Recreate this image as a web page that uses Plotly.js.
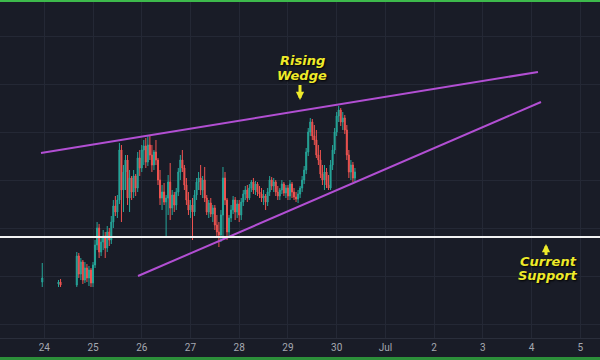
<!DOCTYPE html>
<html>
<head>
<meta charset="utf-8">
<script src="https://cdn.plot.ly/plotly-3.0.1.min.js"></script>
<style>
html,body{margin:0;padding:0;background:#191c27;overflow:hidden;}
#wrap{position:relative;width:600px;height:360px;}
#chart{position:absolute;left:0;top:0;width:600px;height:360px;}
#gtop{position:absolute;left:0;top:0;width:600px;height:2px;background:#3dba4c;z-index:5;}
#gbot{position:absolute;left:0;top:357px;width:600px;height:3px;background:#2c8f3a;z-index:5;}
</style>
</head>
<body>
<div id="wrap"><div id="chart"></div><div id="gtop"></div><div id="gbot"></div></div>
<script>
// hourly candles (price units arbitrary, y axis unlabeled)
const time = [
"2019-06-23 23:00","2019-06-24 07:00","2019-06-24 08:00",
"2019-06-24 16:00","2019-06-24 17:00","2019-06-24 18:00","2019-06-24 19:00","2019-06-24 20:00","2019-06-24 21:00","2019-06-24 22:00","2019-06-24 23:00",
"2019-06-25 00:00","2019-06-25 01:00","2019-06-25 02:00","2019-06-25 03:00","2019-06-25 04:00","2019-06-25 05:00","2019-06-25 06:00","2019-06-25 07:00","2019-06-25 08:00","2019-06-25 09:00","2019-06-25 10:00","2019-06-25 11:00","2019-06-25 12:00","2019-06-25 13:00","2019-06-25 14:00","2019-06-25 15:00","2019-06-25 16:00","2019-06-25 17:00","2019-06-25 18:00","2019-06-25 19:00","2019-06-25 20:00","2019-06-25 21:00","2019-06-25 22:00","2019-06-25 23:00",
"2019-06-26 00:00","2019-06-26 01:00","2019-06-26 02:00","2019-06-26 03:00","2019-06-26 04:00","2019-06-26 05:00","2019-06-26 06:00","2019-06-26 07:00","2019-06-26 08:00","2019-06-26 09:00","2019-06-26 10:00","2019-06-26 11:00","2019-06-26 12:00","2019-06-26 13:00","2019-06-26 14:00","2019-06-26 15:00","2019-06-26 16:00","2019-06-26 17:00","2019-06-26 18:00","2019-06-26 19:00","2019-06-26 20:00","2019-06-26 21:00","2019-06-26 22:00","2019-06-26 23:00",
"2019-06-27 00:00","2019-06-27 01:00","2019-06-27 02:00","2019-06-27 03:00","2019-06-27 04:00","2019-06-27 05:00","2019-06-27 06:00","2019-06-27 07:00","2019-06-27 08:00","2019-06-27 09:00","2019-06-27 10:00","2019-06-27 11:00","2019-06-27 12:00","2019-06-27 13:00","2019-06-27 14:00","2019-06-27 15:00","2019-06-27 16:00","2019-06-27 17:00","2019-06-27 18:00","2019-06-27 19:00","2019-06-27 20:00","2019-06-27 21:00","2019-06-27 22:00","2019-06-27 23:00",
"2019-06-28 00:00","2019-06-28 01:00","2019-06-28 02:00","2019-06-28 03:00","2019-06-28 04:00","2019-06-28 05:00","2019-06-28 06:00","2019-06-28 07:00","2019-06-28 08:00","2019-06-28 09:00","2019-06-28 10:00","2019-06-28 11:00","2019-06-28 12:00","2019-06-28 13:00","2019-06-28 14:00","2019-06-28 15:00","2019-06-28 16:00","2019-06-28 17:00","2019-06-28 18:00","2019-06-28 19:00","2019-06-28 20:00","2019-06-28 21:00","2019-06-28 22:00","2019-06-28 23:00",
"2019-06-29 00:00","2019-06-29 01:00","2019-06-29 02:00","2019-06-29 03:00","2019-06-29 04:00","2019-06-29 05:00","2019-06-29 06:00","2019-06-29 07:00","2019-06-29 08:00","2019-06-29 09:00","2019-06-29 10:00","2019-06-29 11:00","2019-06-29 12:00","2019-06-29 13:00","2019-06-29 14:00","2019-06-29 15:00","2019-06-29 16:00","2019-06-29 17:00","2019-06-29 18:00","2019-06-29 19:00","2019-06-29 20:00","2019-06-29 21:00","2019-06-29 22:00","2019-06-29 23:00",
"2019-06-30 00:00","2019-06-30 01:00","2019-06-30 02:00","2019-06-30 03:00","2019-06-30 04:00","2019-06-30 05:00","2019-06-30 06:00","2019-06-30 07:00","2019-06-30 08:00","2019-06-30 09:00"
];
const open = [
78,76,78,
75,104,86,98,80,92,82,90,
77,95,115,132,108,118,124,112,128,120,138,154,148,160,210,170,188,200,162,182,168,184,172,202,
192,210,214,198,215,205,195,208,200,180,162,168,158,162,178,152,165,155,168,188,200,192,175,160,
150,155,148,165,178,182,170,180,162,148,157,146,152,135,128,125,145,182,160,128,142,150,160,148,
156,145,158,166,170,162,172,178,170,176,168,166,162,164,158,168,180,174,178,168,164,170,176,167,
172,164,176,168,163,161,166,172,180,190,208,228,238,224,220,205,200,186,180,188,175,172,195,210,
228,244,250,238,242,230,205,188,195,182
];
const high = [
97,80,81,
108,107,102,100,98,96,94,92,
98,120,138,136,122,130,128,134,132,144,160,164,165,217,215,195,205,205,190,184,190,186,208,210,
215,220,222,225,224,215,210,220,202,190,175,177,165,185,197,170,168,172,192,205,210,195,182,168,
160,162,170,182,188,195,184,193,165,160,162,155,155,145,138,150,193,188,162,145,155,164,163,160,
160,162,170,174,175,176,180,182,179,178,174,172,170,166,172,184,183,182,180,174,172,180,178,175,
175,180,178,172,168,170,174,184,194,212,232,242,241,235,230,215,210,195,195,192,185,200,215,232,
248,254,252,248,245,235,210,200,198,192
];
const low = [
73,73,73,
73,82,80,76,77,78,74,73,
73,92,110,102,104,110,102,108,114,116,132,144,142,156,138,148,170,155,148,160,162,164,168,184,
188,195,192,194,200,188,190,195,175,155,150,155,123,145,140,145,148,150,164,180,188,170,155,145,
142,120,144,160,170,165,162,158,145,142,143,138,130,122,113,118,120,155,120,122,138,146,140,142,
138,140,154,160,158,160,168,166,165,164,162,158,155,150,154,164,170,168,164,160,160,166,164,162,
160,160,162,160,158,157,162,168,176,186,204,224,220,215,202,195,182,175,170,172,170,170,190,206,
224,238,234,230,226,200,182,180,178,178
];
const close = [
82,78,75,
104,86,98,80,92,82,90,77,
95,115,132,108,118,124,112,128,120,138,154,148,160,210,170,188,200,162,182,168,184,172,202,192,
210,214,198,215,205,195,208,200,180,162,168,158,162,178,152,165,155,168,188,200,192,175,160,150,
155,148,165,178,182,170,180,162,148,157,146,152,135,128,125,145,182,160,128,142,150,160,148,156,
145,158,166,170,162,172,178,170,176,168,166,162,164,158,168,180,174,178,168,164,170,176,167,172,
164,176,168,163,161,166,172,180,190,208,228,238,224,220,205,200,186,180,188,175,172,195,210,228,
244,250,238,242,230,205,188,195,182,188
];

// rising wedge trend lines
const wedgeUpperX = ["2019-06-23 22:22","2019-07-04 03:09"];
const wedgeUpperY = [207, 288];
const wedgeLowerX = ["2019-06-25 22:09","2019-07-04 04:38"];
const wedgeLowerY = [84, 258];
const supportLevel = 123;

// axis ticks
const tickVals = ["2019-06-24","2019-06-25","2019-06-26","2019-06-27","2019-06-28","2019-06-29","2019-06-30","2019-07-01","2019-07-02","2019-07-03","2019-07-04","2019-07-05"];
const tickText = ["24","25","26","27","28","29","30","Jul","2","3","4","5"];

const TEAL = '#26a69a', RED = '#ef5350', PURPLE = '#b24fd3', YELLOW = '#eeea2a';
const annFont = {family:'DejaVu Sans, Verdana, sans-serif', size:13, color:YELLOW, weight:'bold', style:'italic', shadow:'1px 1px 2px #000'};

const traces = [
  {type:'candlestick', x:time, open:open, high:high, low:low, close:close,
   increasing:{line:{color:TEAL,width:1}, fillcolor:TEAL},
   decreasing:{line:{color:RED,width:1}, fillcolor:RED},
   whiskerwidth:0, hoverinfo:'skip'},
  {type:'scatter', mode:'lines', x:wedgeUpperX, y:wedgeUpperY, line:{color:PURPLE,width:2}, hoverinfo:'skip'},
  {type:'scatter', mode:'lines', x:wedgeLowerX, y:wedgeLowerY, line:{color:PURPLE,width:2}, hoverinfo:'skip'}
];

function label(px, py, txt) {
  return {xref:'paper', yref:'paper', x:px/600, y:(338-py)/336, xanchor:'center', yanchor:'middle',
          text:txt, showarrow:false, font:annFont};
}
function arrow(px, tipY, tailY) {
  return {xref:'paper', yref:'paper', x:px/600, y:(338-tipY)/336, ax:0, ay:tailY-tipY,
          axref:'pixel', ayref:'pixel', text:' ', font:{size:1}, borderpad:0, showarrow:true,
          arrowhead:2, arrowsize:0.55, arrowwidth:3, arrowcolor:YELLOW, standoff:0, startstandoff:0};
}

const layout = {
  width:600, height:360,
  margin:{l:0,r:0,t:2,b:22},
  paper_bgcolor:'#191c27', plot_bgcolor:'#191c27',
  showlegend:false,
  xaxis:{type:'date', range:['2019-06-23 02:11','2019-07-05 09:42'],
    rangeslider:{visible:false}, tickmode:'array', tickvals:tickVals, ticktext:tickText,
    showgrid:true, gridcolor:'#242835', gridwidth:1, zeroline:false,
    showline:true, linecolor:'#2a2e3b', ticks:'',
    tickfont:{family:'Liberation Sans Narrow, Roboto, sans-serif', size:10, color:'#a5a8b1'}},
  yaxis:{range:[22,358], showticklabels:false, tick0:324, dtick:48,
    showgrid:true, gridcolor:'#242835', zeroline:false, ticks:''},
  shapes:[{type:'line', xref:'paper', x0:0, x1:1, yref:'y', y0:supportLevel, y1:supportLevel,
    line:{color:'#f2f2f2', width:2}}],
  annotations:[
    label(302, 60, 'Rising'),
    label(302, 75, 'Wedge'),
    arrow(300, 100, 84),
    label(548, 261, 'Current'),
    label(548, 275, 'Support'),
    arrow(546, 244, 256)
  ]
};

Plotly.newPlot('chart', traces, layout, {displayModeBar:false, staticPlot:true});
</script>
</body>
</html>
